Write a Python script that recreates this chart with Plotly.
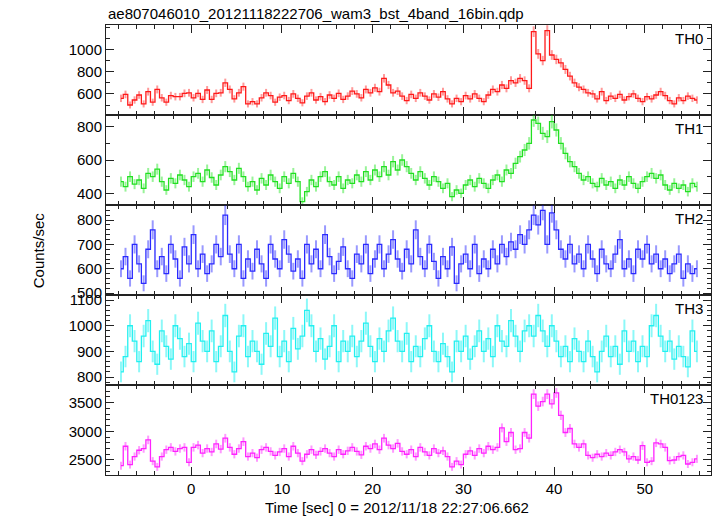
import numpy as np
import plotly.graph_objects as go
from plotly.subplots import make_subplots

BIN = 0.5  # s
T0 = -7.75
N = 128
time = [T0 + BIN * k for k in range(N)]

th0 = [560, 595, 500, 545, 590, 510, 620, 525, 640, 565,
       525, 585, 575, 575, 605, 610, 565, 605, 550, 635,
       550, 605, 610, 700, 640, 555, 610, 665, 510, 530,
       510, 565, 610, 585, 525, 570, 585, 540, 600, 560,
       520, 580, 610, 545, 575, 530, 590, 560, 605, 550,
       580, 625, 600, 565, 640, 610, 655, 620, 740, 680,
       610, 625, 580, 540, 595, 560, 610, 580, 545, 600,
       570, 620, 555, 510, 560, 530, 585, 555, 600, 560,
       530, 590, 640, 620, 680, 650, 720, 700, 740, 720,
       650, 1160, 960, 900, 1170, 950, 910, 880, 820, 760,
       700, 660, 640, 610, 600, 555, 620, 540, 580, 560,
       595, 545, 575, 600, 560, 530, 575, 555, 590, 620,
       585, 540, 510, 565, 540, 580, 560, 545]

th1 = [470, 440, 500, 455, 480, 430, 520, 500, 545, 470,
       420, 490, 460, 510, 480, 440, 500, 520, 470, 540,
       495, 450, 510, 560, 530, 480, 550, 500, 440, 470,
       420, 490, 450, 510, 470, 430, 500, 460, 520, 470,
       350, 410, 480, 440, 500, 530, 470, 450, 500, 430,
       480, 460, 510, 470, 530, 480, 540, 500, 560, 510,
       590, 540, 600, 560, 520, 480, 530, 490, 450, 500,
       470, 430, 460, 380, 420, 400, 450, 480, 440, 490,
       460, 430, 480, 510, 470, 540, 520, 580, 620, 660,
       700, 840, 820, 760, 740, 830, 780, 700, 640, 590,
       560, 520, 480, 500, 460, 440, 490, 450, 470, 430,
       480, 450, 500, 460, 430, 470, 500, 520, 490, 510,
       450, 420, 460, 430, 450, 410, 460, 440]

th2 = [600, 650, 560, 700, 620, 540, 680, 760, 600, 650,
       580, 700, 640, 560, 690, 620, 740, 600, 660, 580,
       620, 700, 650, 820, 660, 600, 700, 560, 640, 590,
       680, 620, 560, 700, 640, 600, 720, 660, 590, 640,
       560, 700, 620, 680, 600, 740, 650, 580, 630, 690,
       600, 560, 660, 620, 700, 580, 640, 700, 600, 660,
       720, 640, 590, 680, 620, 760, 650, 600, 700, 630,
       560, 650, 600, 690, 540, 620, 660, 600, 700, 580,
       640, 600, 680, 620, 700, 650, 710, 680, 740, 700,
       760, 820, 780, 840, 700, 830, 760, 680, 640, 700,
       620, 660, 600, 700, 640, 580, 680, 620, 600, 660,
       720, 600, 640, 580, 680, 640, 700, 620, 660, 600,
       640, 580, 620, 660, 560, 620, 580, 600]

th3 = [820, 880, 1000, 940, 860, 960, 1020, 900, 850, 980,
       920, 870, 1000, 950, 880, 930, 860, 1010, 940, 900,
       980, 860, 920, 1040, 900, 820, 960, 1000, 880, 940,
       900, 850, 970, 920, 1030, 880, 940, 860, 990, 910,
       960, 1060, 1000, 900, 950, 870, 920, 1000, 860, 940,
       900, 960, 880, 940, 1010, 920, 860, 950, 900, 980,
       1030, 940, 900, 970, 860, 920, 880, 950, 1000, 900,
       860, 930, 880, 820, 940, 900, 960, 870, 920, 980,
       900, 950, 880, 1000, 940, 920, 1020, 960, 900, 980,
       1000, 960, 1040, 980, 920, 1000, 940, 880, 920, 860,
       950, 900, 860, 940, 880, 820, 900, 960, 880, 920,
       850, 980, 900, 940, 860, 920, 880, 1000, 1040, 960,
       900, 940, 870, 920, 880, 840, 980, 900]

th0123 = [2400, 2740, 2420, 2560, 2670, 2700, 2850, 2480, 2380, 2560,
          2680, 2720, 2650, 2700, 2720, 2460, 2720, 2760, 2620, 2700,
          2640, 2780, 2690, 2880, 2720, 2600, 2700, 2820, 2560, 2620,
          2540, 2680, 2720, 2650, 2580, 2640, 2700, 2560, 2740, 2620,
          2480, 2600, 2680, 2590, 2650, 2700, 2620, 2560, 2680, 2600,
          2660, 2720, 2650, 2590, 2740, 2700, 2780, 2680, 2880, 2760,
          2700, 2790, 2650, 2600, 2680, 2560, 2720, 2640, 2580, 2700,
          2620, 2660, 2560, 2380, 2480, 2420, 2600, 2660, 2580, 2700,
          2620, 2740, 2680, 2720, 3060, 2820, 2980, 2680, 2700, 2980,
          2880, 3650, 3440, 3520, 3650, 3480, 3670, 3280, 2980, 3050,
          2780, 2720, 2780, 2580, 2540, 2600, 2560, 2620, 2580, 2640,
          2680, 2640, 2520, 2560, 2500, 2750, 2460, 2480, 2800, 2780,
          2720, 2490, 2500, 2560, 2580, 2430, 2460, 2520]

names = ["TH0", "TH1", "TH2", "TH3", "TH0123"]
series = [th0, th1, th2, th3, th0123]
colors = ["#ff1a1a", "#22e022", "#2a2aff", "#22f0f0", "#ff22ff"]
faint = ["rgba(255,0,0,0.4)", "rgba(0,224,0,0.4)", "rgba(0,0,255,0.4)",
         "rgba(0,240,240,0.45)", "rgba(255,0,255,0.4)"]
yranges = [[410, 1220], [330, 870], [492, 862], [769, 1120], [2238, 3809]]
ytickvals = [[600, 800, 1000], [400, 600, 800], [500, 600, 700, 800],
             [800, 900, 1000, 1100], [2500, 3000, 3500]]
yminor = [100, 100, 20, 20, 100]

FONT = "Liberation Sans, Arial, Helvetica, sans-serif"
AX = "#222222"

fig = make_subplots(rows=5, cols=1, shared_xaxes=True, vertical_spacing=0)

for i, (nm, vals) in enumerate(zip(names, series)):
    v = np.array(vals, dtype=float)
    err = np.sqrt(v / BIN)
    fig.add_trace(go.Scatter(
        x=time, y=vals, mode="lines", name=nm,
        line=dict(color=colors[i], width=1.3, shape="hvh"),
        error_y=dict(type="data", array=err.tolist(), width=0,
                     color=faint[i], thickness=2),
        showlegend=False, hoverinfo="skip"), row=i + 1, col=1)
    fig.update_yaxes(range=yranges[i], tickmode="array", tickvals=ytickvals[i],
                     minor=dict(dtick=yminor[i], tick0=0, ticks="inside",
                                ticklen=4, tickcolor=AX),
                     row=i + 1, col=1)

fig.update_xaxes(range=[-9.4, 57.3], dtick=10, tick0=0,
                 ticks="inside", ticklen=8, tickcolor=AX, tickwidth=1,
                 minor=dict(dtick=2, ticks="inside", ticklen=4, tickcolor=AX),
                 showline=True, linecolor=AX, linewidth=1, mirror="ticks",
                 showgrid=False, zeroline=False,
                 tickfont=dict(family=FONT, size=15, color="black"))
fig.update_yaxes(ticks="inside", ticklen=8, tickcolor=AX, tickwidth=1,
                 showline=True, linecolor=AX, linewidth=1, mirror="ticks",
                 showgrid=False, zeroline=False,
                 tickfont=dict(family=FONT, size=15, color="black"))

annots = []
for i, nm in enumerate(names):
    top = 1 - i * 0.2
    annots.append(dict(text=nm, x=1, xref="paper", xanchor="right", xshift=-6,
                       y=top, yref="paper", yanchor="top", yshift=-3,
                       showarrow=False, font=dict(family=FONT, size=15, color="black")))
annots.append(dict(text="ae807046010_20121118222706_wam3_bst_4band_16bin.qdp",
                   x=0, xref="paper", xanchor="left", y=1.0, yref="paper",
                   yanchor="bottom", yshift=1, showarrow=False,
                   font=dict(family=FONT, size=15, color="black")))
annots.append(dict(text="Counts/sec", x=-0.112, xref="paper", xanchor="center",
                   y=0.5, yref="paper", yanchor="middle", textangle=-90,
                   showarrow=False, font=dict(family=FONT, size=15, color="black")))
annots.append(dict(text="Time [sec] 0 = 2012/11/18 22:27:06.662", x=0.481,
                   xref="paper", xanchor="center", y=-0.073, yref="paper",
                   yanchor="middle", showarrow=False,
                   font=dict(family=FONT, size=15, color="black")))

fig.update_layout(width=717, height=516,
                  margin=dict(l=106, r=6, t=25, b=41),
                  paper_bgcolor="white", plot_bgcolor="white",
                  hovermode=False, annotations=annots)

# remove the page body's default margin so the figure fills the window exactly
fig.write_html("out.html",
               config={"displayModeBar": False, "staticPlot": True},
               post_script="document.body.style.margin='0';"
                           "document.body.style.overflow='hidden';")
